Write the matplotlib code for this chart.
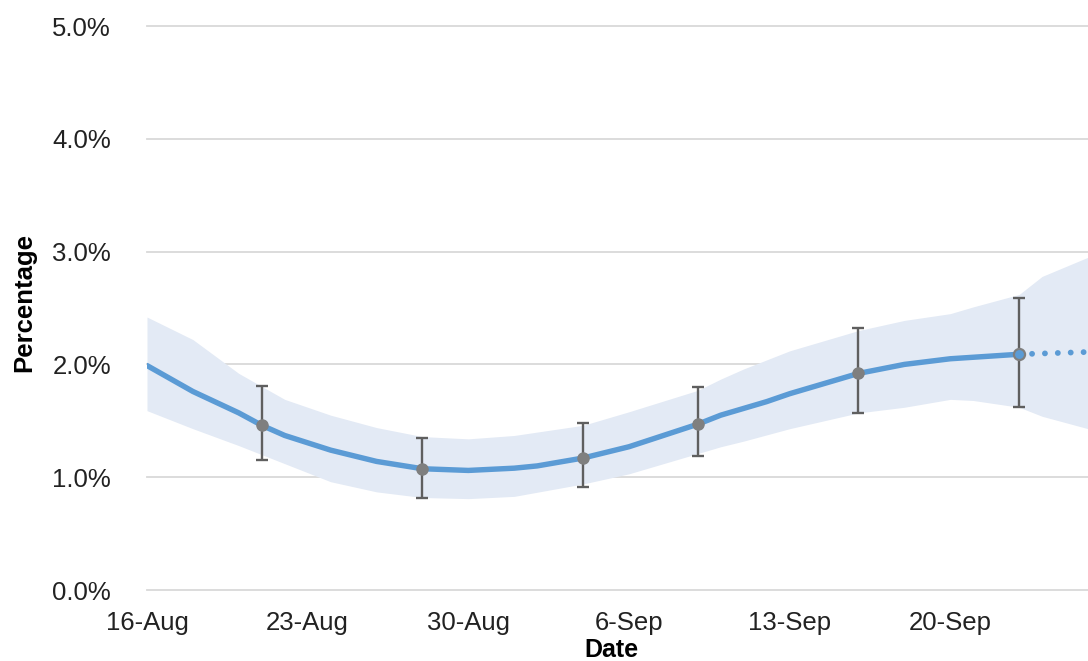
import matplotlib
matplotlib.use("Agg")
import matplotlib.pyplot as plt
import numpy as np
import pandas as pd

plt.rcParams['font.family'] = ['Liberation Sans', 'DejaVu Sans']

# Modelled trend (percentage) and its credible interval
trend_dates = ["2020-08-16", "2020-08-18", "2020-08-20", "2020-08-21", "2020-08-22",
               "2020-08-24", "2020-08-26", "2020-08-28", "2020-08-30", "2020-09-01",
               "2020-09-02", "2020-09-04", "2020-09-06", "2020-09-09", "2020-09-10",
               "2020-09-12", "2020-09-13", "2020-09-16", "2020-09-18", "2020-09-20",
               "2020-09-23"]
trend_value = [1.99, 1.76, 1.57, 1.46, 1.37,
               1.24, 1.14, 1.075, 1.06, 1.08,
               1.10, 1.17, 1.27, 1.47, 1.55,
               1.67, 1.74, 1.92, 2.00, 2.05,
               2.09]

# Projection beyond the last estimate
proj_dates = ["2020-09-23", "2020-09-26"]
proj_value = [2.09, 2.11]

band_dates = ["2020-08-16", "2020-08-18", "2020-08-20", "2020-08-22", "2020-08-24",
              "2020-08-26", "2020-08-28", "2020-08-30", "2020-09-01", "2020-09-04",
              "2020-09-06", "2020-09-09", "2020-09-10", "2020-09-11", "2020-09-13",
              "2020-09-16", "2020-09-18", "2020-09-20", "2020-09-21", "2020-09-23",
              "2020-09-24", "2020-09-26"]
band_low = [1.59, 1.43, 1.28, 1.12, 0.96,
            0.87, 0.82, 0.81, 0.83, 0.94,
            1.03, 1.21, 1.27, 1.32, 1.43,
            1.57, 1.62, 1.69, 1.68, 1.62,
            1.54, 1.43]
band_high = [2.42, 2.22, 1.92, 1.69, 1.55,
             1.44, 1.36, 1.34, 1.37, 1.46,
             1.58, 1.77, 1.87, 1.96, 2.12,
             2.30, 2.39, 2.45, 2.51, 2.62,
             2.78, 2.95]

# Survey estimates with 95% intervals
est_dates = ["2020-08-21", "2020-08-28", "2020-09-04", "2020-09-09", "2020-09-16", "2020-09-23"]
est_value = [1.46, 1.07, 1.17, 1.47, 1.92, 2.09]
est_low = [1.15, 0.82, 0.91, 1.19, 1.57, 1.62]
est_high = [1.81, 1.35, 1.48, 1.80, 2.32, 2.59]

tick_dates = ["2020-08-16", "2020-08-23", "2020-08-30", "2020-09-06", "2020-09-13", "2020-09-20"]
tick_labels = ["16-Aug", "23-Aug", "30-Aug", "6-Sep", "13-Sep", "20-Sep"]
y_ticks = [0, 1, 2, 3, 4, 5]

td = pd.to_datetime(trend_dates)
prd = pd.to_datetime(proj_dates)
bd = pd.to_datetime(band_dates)
ed = pd.to_datetime(est_dates)

W, H = 1088, 661
fig = plt.figure(figsize=(W / 100, H / 100), dpi=100)
ax = fig.add_axes([147 / W, 1 - 590 / H, 1 - 147 / W, (590 - 26) / H])

blue = "#5B9BD5"
ax.fill_between(bd, band_low, band_high, color="#E3EAF5", lw=0, zorder=1)
ax.plot(td, trend_value, color=blue, lw=3.9, solid_capstyle="round",
        solid_joinstyle="round", zorder=3)
ax.plot(prd, proj_value, color=blue, lw=4.2, linestyle=(0, (0.01, 2.2)),
        dash_capstyle="round", zorder=3)

est_value = np.array(est_value)
yerr = [est_value - np.array(est_low), np.array(est_high) - est_value]
ax.errorbar(ed, est_value, yerr=yerr, fmt="none", ecolor="#5f5f5f",
            elinewidth=1.7, capsize=4, capthick=1.7, zorder=4)
ax.plot(ed[:-1], est_value[:-1], "o", color="#7f7f7f", ms=8, zorder=5)
ax.plot(ed[-1:], est_value[-1:], "o", mfc=blue, mec="#7f7f7f", mew=1.6, ms=8, zorder=5)

ax.set_ylim(0, 5)
ax.set_xlim(pd.Timestamp("2020-08-16"), pd.Timestamp("2020-09-26"))
ax.set_yticks(y_ticks)
ax.set_yticklabels([f"{v:.1f}%" for v in y_ticks])
ax.set_xticks(pd.to_datetime(tick_dates))
ax.set_xticklabels(tick_labels)

ax.grid(axis="y", color="#d9d9d9", lw=1.3, zorder=0)
ax.set_axisbelow(True)
for s in ax.spines.values():
    s.set_visible(False)
ax.tick_params(axis="both", length=0, labelsize=18.5, colors="#222222")
ax.tick_params(axis="y", pad=26)
ax.tick_params(axis="x", pad=15)
for g in ax.get_ygridlines():
    g.set_clip_on(False)

ax.set_xlabel("Date", fontsize=18, fontweight="bold", va="center")
ax.xaxis.set_label_coords(611 / W, 1 - 650 / H, transform=fig.transFigure)
ax.set_ylabel("Percentage", fontsize=18.5, fontweight="bold", va="center")
ax.yaxis.set_label_coords(24 / W, 1 - 302 / H, transform=fig.transFigure)

fig.savefig("out.png", dpi=100)
